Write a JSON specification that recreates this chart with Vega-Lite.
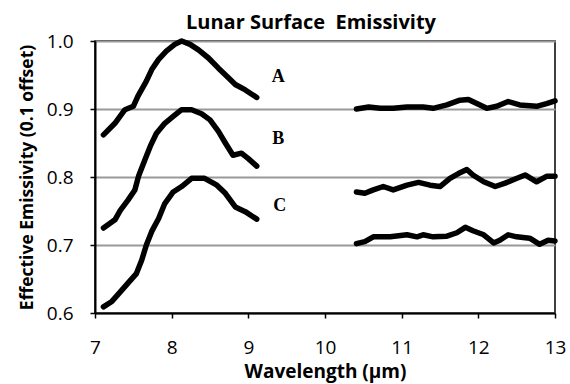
{
  "$schema": "https://vega.github.io/schema/vega-lite/v6.json",
  "width": 460,
  "height": 272,
  "autosize": {"type": "none"},
  "padding": {"left": 95, "top": 41, "right": 15, "bottom": 71},
  "background": "white",
  "title": {
    "text": "Lunar Surface\u00a0 Emissivity",
    "font": "Open Sans",
    "fontSize": 20,
    "fontWeight": "bold",
    "color": "#000",
    "anchor": "middle",
    "dx": -14,
    "offset": -1
  },
  "config": {
    "view": {"stroke": "#000", "strokeWidth": 1.5},
    "axis": {
      "labelFont": "Open Sans",
      "labelFontSize": 19,
      "labelColor": "#000",
      "titleFont": "Open Sans",
      "titleFontWeight": "bold",
      "titleColor": "#000",
      "domainColor": "#000",
      "domainWidth": 2,
      "tickColor": "#000",
      "tickWidth": 1.5,
      "tickSize": 5
    }
  },
  "datasets": {
    "curves": [
      {"seg": "A1", "wl": 7.11, "em": 0.862},
      {"seg": "A1", "wl": 7.26, "em": 0.879},
      {"seg": "A1", "wl": 7.39, "em": 0.899},
      {"seg": "A1", "wl": 7.5, "em": 0.904},
      {"seg": "A1", "wl": 7.56, "em": 0.919},
      {"seg": "A1", "wl": 7.67, "em": 0.941},
      {"seg": "A1", "wl": 7.74, "em": 0.958},
      {"seg": "A1", "wl": 7.83, "em": 0.973},
      {"seg": "A1", "wl": 7.93, "em": 0.985},
      {"seg": "A1", "wl": 8.04, "em": 0.995},
      {"seg": "A1", "wl": 8.13, "em": 1.0},
      {"seg": "A1", "wl": 8.24, "em": 0.995},
      {"seg": "A1", "wl": 8.35, "em": 0.987},
      {"seg": "A1", "wl": 8.48, "em": 0.975},
      {"seg": "A1", "wl": 8.61, "em": 0.96},
      {"seg": "A1", "wl": 8.74, "em": 0.946},
      {"seg": "A1", "wl": 8.83, "em": 0.936},
      {"seg": "A1", "wl": 8.96, "em": 0.928},
      {"seg": "A1", "wl": 9.11, "em": 0.917},
      {"seg": "A2", "wl": 10.41, "em": 0.9},
      {"seg": "A2", "wl": 10.57, "em": 0.903},
      {"seg": "A2", "wl": 10.72, "em": 0.901},
      {"seg": "A2", "wl": 10.89, "em": 0.901},
      {"seg": "A2", "wl": 11.07, "em": 0.903},
      {"seg": "A2", "wl": 11.28, "em": 0.903},
      {"seg": "A2", "wl": 11.41, "em": 0.901},
      {"seg": "A2", "wl": 11.59, "em": 0.906},
      {"seg": "A2", "wl": 11.76, "em": 0.913},
      {"seg": "A2", "wl": 11.87, "em": 0.914},
      {"seg": "A2", "wl": 11.98, "em": 0.908},
      {"seg": "A2", "wl": 12.11, "em": 0.901},
      {"seg": "A2", "wl": 12.24, "em": 0.904},
      {"seg": "A2", "wl": 12.39, "em": 0.911},
      {"seg": "A2", "wl": 12.54, "em": 0.906},
      {"seg": "A2", "wl": 12.76, "em": 0.904},
      {"seg": "A2", "wl": 12.89, "em": 0.908},
      {"seg": "A2", "wl": 13.0, "em": 0.912},
      {"seg": "B1", "wl": 7.11, "em": 0.725},
      {"seg": "B1", "wl": 7.26, "em": 0.737},
      {"seg": "B1", "wl": 7.33, "em": 0.751},
      {"seg": "B1", "wl": 7.43, "em": 0.766},
      {"seg": "B1", "wl": 7.52, "em": 0.781},
      {"seg": "B1", "wl": 7.57, "em": 0.802},
      {"seg": "B1", "wl": 7.65, "em": 0.825},
      {"seg": "B1", "wl": 7.72, "em": 0.845},
      {"seg": "B1", "wl": 7.8, "em": 0.864},
      {"seg": "B1", "wl": 7.91, "em": 0.879},
      {"seg": "B1", "wl": 8.02, "em": 0.889},
      {"seg": "B1", "wl": 8.13, "em": 0.899},
      {"seg": "B1", "wl": 8.26, "em": 0.899},
      {"seg": "B1", "wl": 8.39, "em": 0.893},
      {"seg": "B1", "wl": 8.5, "em": 0.884},
      {"seg": "B1", "wl": 8.61, "em": 0.867},
      {"seg": "B1", "wl": 8.7, "em": 0.85},
      {"seg": "B1", "wl": 8.8, "em": 0.832},
      {"seg": "B1", "wl": 8.91, "em": 0.835},
      {"seg": "B1", "wl": 9.0, "em": 0.827},
      {"seg": "B1", "wl": 9.11, "em": 0.816},
      {"seg": "B2", "wl": 10.41, "em": 0.778},
      {"seg": "B2", "wl": 10.52, "em": 0.776},
      {"seg": "B2", "wl": 10.63, "em": 0.781},
      {"seg": "B2", "wl": 10.76, "em": 0.786},
      {"seg": "B2", "wl": 10.89, "em": 0.781},
      {"seg": "B2", "wl": 11.07, "em": 0.788},
      {"seg": "B2", "wl": 11.22, "em": 0.792},
      {"seg": "B2", "wl": 11.37, "em": 0.788},
      {"seg": "B2", "wl": 11.5, "em": 0.786},
      {"seg": "B2", "wl": 11.63, "em": 0.798},
      {"seg": "B2", "wl": 11.74, "em": 0.805},
      {"seg": "B2", "wl": 11.85, "em": 0.811},
      {"seg": "B2", "wl": 11.93, "em": 0.803},
      {"seg": "B2", "wl": 12.07, "em": 0.793},
      {"seg": "B2", "wl": 12.22, "em": 0.786},
      {"seg": "B2", "wl": 12.35, "em": 0.791},
      {"seg": "B2", "wl": 12.48, "em": 0.797},
      {"seg": "B2", "wl": 12.61, "em": 0.803},
      {"seg": "B2", "wl": 12.76, "em": 0.793},
      {"seg": "B2", "wl": 12.89, "em": 0.801},
      {"seg": "B2", "wl": 13.0, "em": 0.801},
      {"seg": "C1", "wl": 7.11, "em": 0.609},
      {"seg": "C1", "wl": 7.22, "em": 0.617},
      {"seg": "C1", "wl": 7.33, "em": 0.631},
      {"seg": "C1", "wl": 7.43, "em": 0.644},
      {"seg": "C1", "wl": 7.54, "em": 0.658},
      {"seg": "C1", "wl": 7.61, "em": 0.678},
      {"seg": "C1", "wl": 7.67, "em": 0.7},
      {"seg": "C1", "wl": 7.74, "em": 0.72},
      {"seg": "C1", "wl": 7.83, "em": 0.739},
      {"seg": "C1", "wl": 7.91, "em": 0.761},
      {"seg": "C1", "wl": 8.02, "em": 0.778},
      {"seg": "C1", "wl": 8.13, "em": 0.786},
      {"seg": "C1", "wl": 8.26, "em": 0.798},
      {"seg": "C1", "wl": 8.43, "em": 0.798},
      {"seg": "C1", "wl": 8.59, "em": 0.788},
      {"seg": "C1", "wl": 8.7, "em": 0.776},
      {"seg": "C1", "wl": 8.83, "em": 0.756},
      {"seg": "C1", "wl": 8.96, "em": 0.749},
      {"seg": "C1", "wl": 9.11, "em": 0.738},
      {"seg": "C2", "wl": 10.41, "em": 0.702},
      {"seg": "C2", "wl": 10.52, "em": 0.705},
      {"seg": "C2", "wl": 10.63, "em": 0.712},
      {"seg": "C2", "wl": 10.85, "em": 0.712},
      {"seg": "C2", "wl": 11.07, "em": 0.715},
      {"seg": "C2", "wl": 11.2, "em": 0.712},
      {"seg": "C2", "wl": 11.28, "em": 0.715},
      {"seg": "C2", "wl": 11.41, "em": 0.712},
      {"seg": "C2", "wl": 11.59, "em": 0.713},
      {"seg": "C2", "wl": 11.72, "em": 0.718},
      {"seg": "C2", "wl": 11.83, "em": 0.726},
      {"seg": "C2", "wl": 11.93, "em": 0.721},
      {"seg": "C2", "wl": 12.07, "em": 0.715},
      {"seg": "C2", "wl": 12.2, "em": 0.703},
      {"seg": "C2", "wl": 12.28, "em": 0.707},
      {"seg": "C2", "wl": 12.39, "em": 0.715},
      {"seg": "C2", "wl": 12.5, "em": 0.712},
      {"seg": "C2", "wl": 12.67, "em": 0.71},
      {"seg": "C2", "wl": 12.8, "em": 0.701},
      {"seg": "C2", "wl": 12.91, "em": 0.707},
      {"seg": "C2", "wl": 13.0, "em": 0.706}
    ],
    "labels": [
      {"label": "A", "wl": 9.39, "em": 0.947},
      {"label": "B", "wl": 9.39, "em": 0.856},
      {"label": "C", "wl": 9.41, "em": 0.757}
    ]
  },
  "layer": [
    {
      "data": {"name": "curves"},
      "mark": {"type": "line", "color": "#000", "strokeWidth": 5.5, "strokeCap": "round", "strokeJoin": "round"},
      "encoding": {
        "x": {
          "field": "wl", "type": "quantitative",
          "scale": {"domain": [7, 13], "nice": false, "zero": false},
          "axis": {"title": "Wavelength (µm)", "titleFontSize": 19, "values": [7, 8, 9, 10, 11, 12, 13], "format": "d", "grid": false, "labelPadding": 20, "titlePadding": 5, "labelFlush": false}
        },
        "y": {
          "field": "em", "type": "quantitative",
          "scale": {"domain": [0.6, 1.0], "nice": false, "zero": false},
          "axis": {"title": "Effective Emissivity (0.1 offset)", "titleFontSize": 17.5, "values": [0.6, 0.7, 0.8, 0.9, 1.0], "format": ".1f", "grid": true, "gridColor": "#999", "gridWidth": 2, "labelPadding": 17, "titlePadding": 10, "labelFlush": false}
        },
        "detail": {"field": "seg", "type": "nominal"}
      }
    },
    {
      "data": {"name": "labels"},
      "mark": {"type": "text", "font": "Liberation Serif", "fontWeight": "bold", "fontSize": 18, "color": "#000", "align": "center", "baseline": "middle"},
      "encoding": {
        "x": {"field": "wl", "type": "quantitative"},
        "y": {"field": "em", "type": "quantitative"},
        "text": {"field": "label", "type": "nominal"}
      }
    }
  ]
}
